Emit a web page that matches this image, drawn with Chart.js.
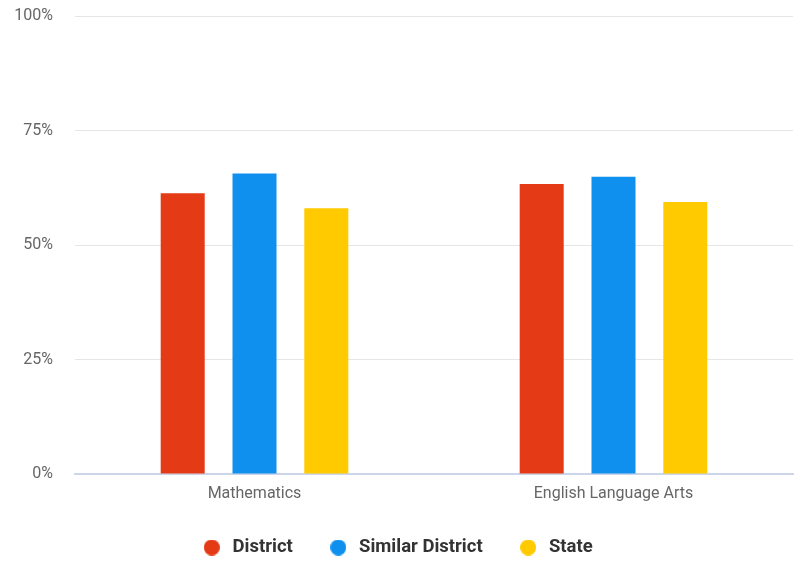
<!DOCTYPE html>
<html>
<head>
<meta charset="utf-8">
<script src="https://cdn.jsdelivr.net/npm/chart.js@4/dist/chart.umd.min.js"></script>
<style>
  html, body { margin: 0; padding: 0; background: #fff; overflow: hidden; }
  #wrap { width: 794px; height: 562px; }
</style>
</head>
<body>
<div id="wrap"><canvas id="scoreChart"></canvas></div>
<script>
// Data
const subjects = ['Mathematics', 'English Language Arts'];
const seriesNames = ['District', 'Similar District', 'State'];
const districtVals = [61.3, 63.3];
const similarVals = [65.6, 64.9];
const stateVals = [58.0, 59.4];
const yTicks = [0, 25, 50, 75, 100];

const colors = ['#E43A15', '#1090EE', '#FFCA00'];

// round legend marker drawn on a small canvas
function makeDot(color) {
  const c = document.createElement('canvas');
  c.width = 16; c.height = 16;
  const g = c.getContext('2d');
  g.fillStyle = color;
  g.beginPath();
  g.arc(8, 8, 8, 0, Math.PI * 2);
  g.fill();
  return c;
}
const dots = colors.map(makeDot);

const ctx = document.getElementById('scoreChart').getContext('2d');

const scoreChart = new Chart(ctx, {
  type: 'bar',
  data: {
    labels: subjects,
    datasets: [
      { label: seriesNames[0], data: districtVals, backgroundColor: colors[0] },
      { label: seriesNames[1], data: similarVals, backgroundColor: colors[1] },
      { label: seriesNames[2], data: stateVals, backgroundColor: colors[2] }
    ]
  },
  options: {
    responsive: true,
    maintainAspectRatio: false,
    animation: false,
    datasets: {
      bar: { categoryPercentage: 0.6, barPercentage: 0.613 }
    },
    layout: { padding: { top: 16, right: 1, bottom: -4.75, left: 0 } },
    plugins: {
      tooltip: { enabled: false },
      legend: {
        position: 'bottom',
        labels: {
          color: '#333333',
          font: { family: 'Roboto', size: 18.5, weight: 'bold' },
          usePointStyle: true,
          pointStyleWidth: 23,
          padding: 34,
          generateLabels(chart) {
            const items = Chart.defaults.plugins.legend.labels.generateLabels(chart);
            items.forEach((it, i) => { it.pointStyle = dots[i]; });
            return items;
          }
        }
      }
    },
    scales: {
      x: {
        grid: { display: false, drawTicks: false },
        border: { color: '#ccd6eb', width: 2 },
        ticks: { color: '#666666', font: { family: 'Roboto', size: 16 }, padding: 10 },
        afterFit(scale) { scale.height = 30.25; }
      },
      y: {
        min: 0,
        max: 100,
        afterBuildTicks(scale) { scale.ticks = yTicks.map(v => ({ value: v })); },
        grid: { color: '#e6e6e6', drawTicks: true, tickLength: 19, tickColor: 'rgba(0,0,0,0)' },
        border: { display: false },
        ticks: {
          color: '#666666',
          font: { family: 'Roboto', size: 16 },
          padding: 3,
          callback: v => v + '%'
        },
        afterFit(scale) { scale.width = 75; }
      }
    }
  }
});
</script>
</body>
</html>
